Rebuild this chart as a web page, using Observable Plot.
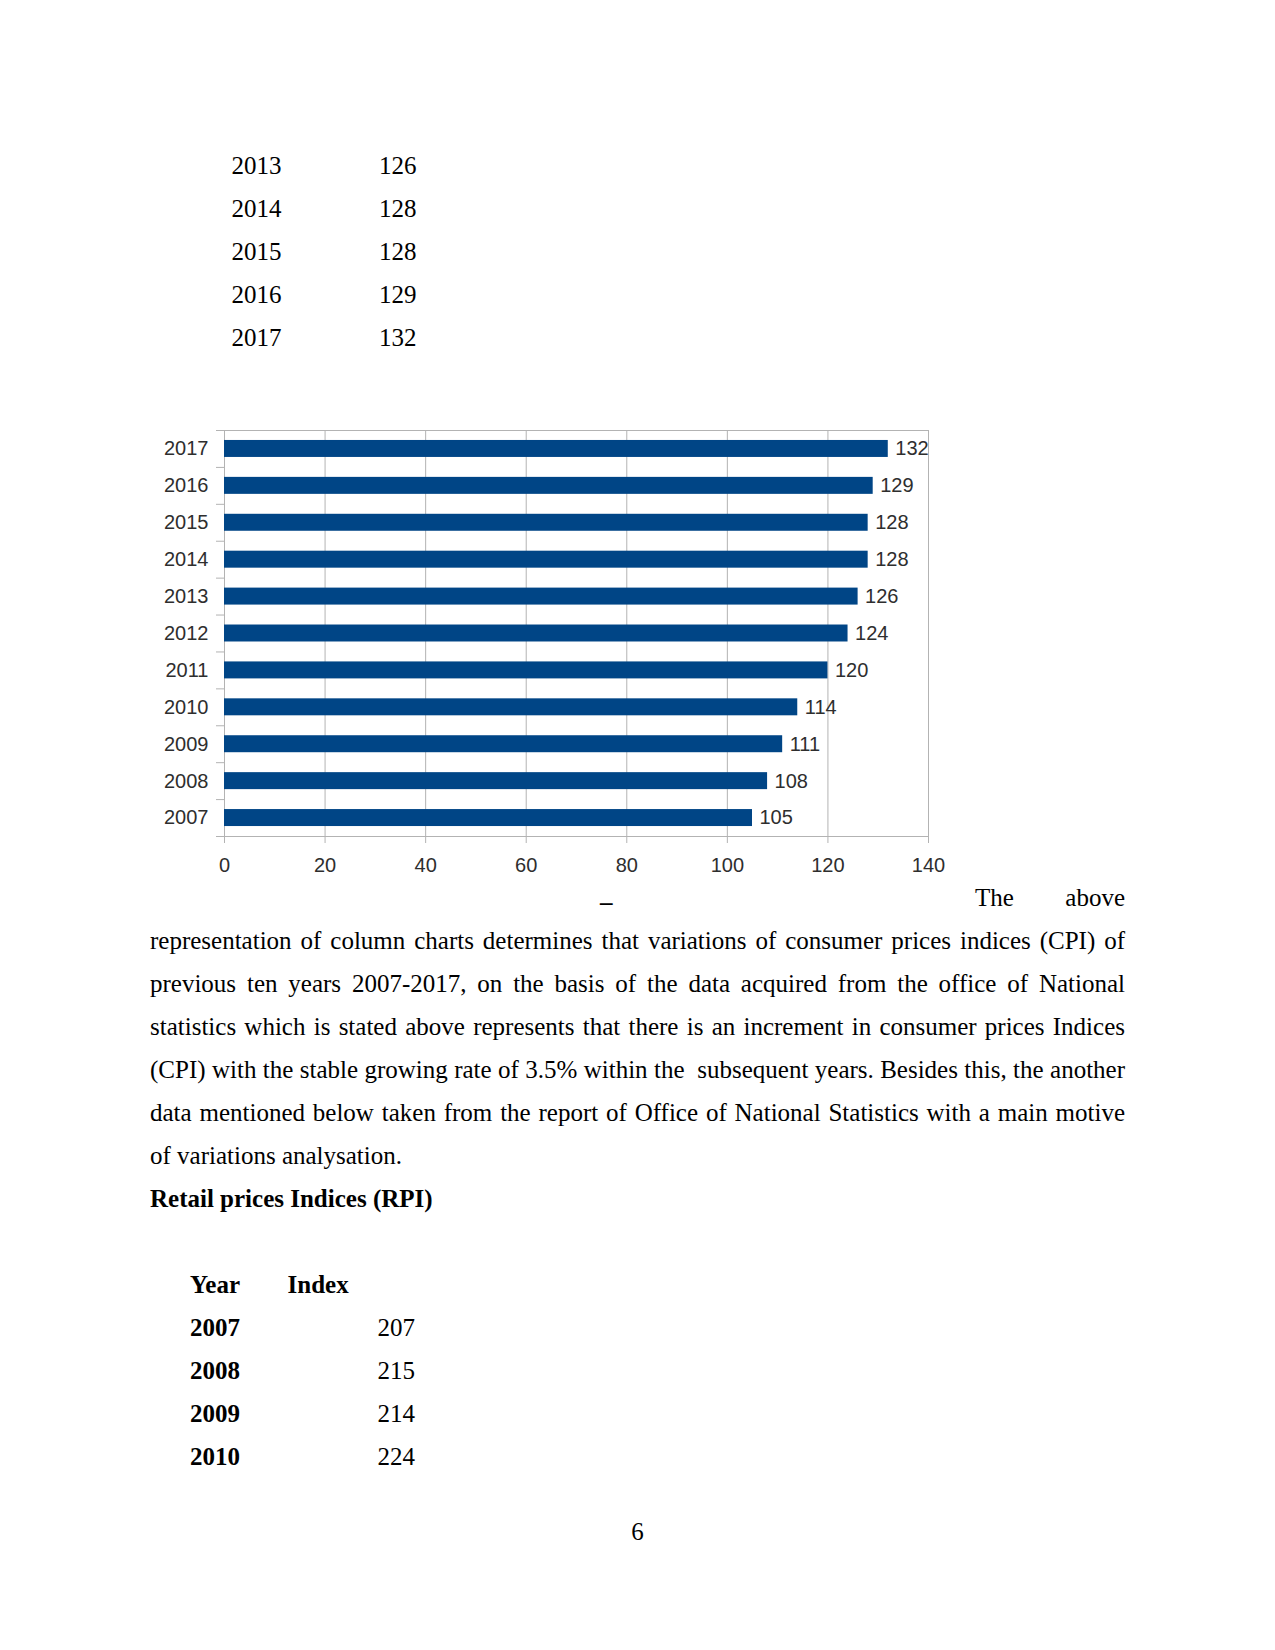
<!DOCTYPE html>
<html>
<head>
<meta charset="utf-8">
<script src="https://cdn.jsdelivr.net/npm/d3@7"></script>
<script src="https://cdn.jsdelivr.net/npm/@observablehq/plot@0.6"></script>
<style>
html, body { margin: 0; padding: 0; background: #fff; }
#page { position: relative; width: 1275px; height: 1650px; overflow: hidden; background: #fff;
  font-family: "Liberation Serif", "Times New Roman", serif; color: #000; }
.t { position: absolute; font-size: 25px; line-height: 43px; white-space: nowrap; }
.j { text-align: justify; text-align-last: justify; }
.b { font-weight: bold; }
#chart { position: absolute; left: 140px; top: 400px; }
</style>
</head>
<body>
<div id="page"><div id="chart"></div></div>
<script>
// ---- Chart data (CPI) ----
const cpiYears = ["2007", "2008", "2009", "2010", "2011", "2012", "2013", "2014", "2015", "2016", "2017"];
const cpiValues = [105, 108, 111, 114, 120, 124, 126, 128, 128, 129, 132];
const xTicks = [0, 20, 40, 60, 80, 100, 120, 140];

// ---- Page text ----
const table1Years = ["2013", "2014", "2015", "2016", "2017"];
const table1Values = ["126", "128", "128", "129", "132"];
const paragraphLines = [
  "representation of column charts determines that variations of consumer prices indices (CPI) of",
  "previous ten years 2007-2017, on the basis of the data acquired from the office of National",
  "statistics which is stated above represents that there is an increment in consumer prices Indices",
  "(CPI) with the stable growing rate of 3.5% within the\u00a0 subsequent years. Besides this, the another",
  "data mentioned below taken from the report of Office of National Statistics with a main motive"
];
const lastLine = "of variations analysation.";
const heading = "Retail prices Indices (RPI)";
const rpiHeader = ["Year", "Index"];
const rpiYears = ["2007", "2008", "2009", "2010"];
const rpiValues = ["207", "215", "214", "224"];
const pageNumber = "6";

// ---- Text placement ----
const page = document.getElementById("page");
const LS = 43.1;
function addText(str, left, baseline, cls, width) {
  const d = document.createElement("div");
  d.className = "t" + (cls ? " " + cls : "");
  d.textContent = str;
  d.style.left = left + "px";
  d.style.top = (baseline - 29.94) + "px";
  if (width) d.style.width = width + "px";
  page.appendChild(d);
  return d;
}

table1Years.forEach((y, i) => {
  addText(y, 231.5, 173.5 + LS * i);
  addText(table1Values[i], 379, 173.5 + LS * i);
});

const pBase = 905.5;
addText("_", 600, 900.5, "b");
addText("The above", 975, pBase, "j", 150);
paragraphLines.forEach((line, i) => addText(line, 150, pBase + LS * (i + 1), "j", 975));
addText(lastLine, 150, pBase + LS * 6);
addText(heading, 150, pBase + LS * 7, "b");

const tBase = 1293;
addText(rpiHeader[0], 190, tBase, "b");
addText(rpiHeader[1], 287.5, tBase, "b");
rpiYears.forEach((y, i) => {
  addText(y, 190, tBase + LS * (i + 1), "b");
  addText(rpiValues[i], 377.5, tBase + LS * (i + 1));
});

const pn = addText(pageNumber, 0, 1540, null, 1275);
pn.style.textAlign = "center";

// ---- Chart ----
const data = cpiYears.map((y, i) => ({year: y, cpi: cpiValues[i]}));
const W = 820, H = 490, mL = 84, mR = 32, mT = 30, mB = 54;
const step = (H - mT - mB) / cpiYears.length;
const yDomain = cpiYears.slice().reverse();
const grey = "#b3b3b3", ink = "#2e2e2e", barColor = "#004586";

const chart = Plot.plot({
  width: W, height: H,
  marginLeft: mL, marginRight: mR, marginTop: mT, marginBottom: mB,
  style: {fontFamily: "'Liberation Sans', Arial, sans-serif", fontSize: "20px", color: ink, background: "transparent", overflow: "visible"},
  x: {domain: [0, 140], label: null},
  y: {type: "band", domain: yDomain, paddingInner: 0.54, paddingOuter: 0.27, round: false, label: null},
  marks: [
    Plot.gridX({ticks: xTicks, stroke: grey, strokeOpacity: 1}),
    Plot.frame({stroke: grey}),
    Plot.barX(data, {x: "cpi", y: "year", fill: barColor}),
    Plot.text(data, {x: "cpi", y: "year", text: d => String(d.cpi), textAnchor: "start", dx: 7, fill: ink}),
    Plot.axisX({ticks: xTicks, tickSize: 7, tickPadding: 14, stroke: grey, fill: ink, label: null}),
    Plot.axisY({tickSize: 0, tickPadding: 16, fill: ink, label: null}),
    Plot.axisY({tickSize: 8, tickFormat: () => "", dy: step / 2, stroke: grey, label: null}),
    Plot.axisY({ticks: [yDomain[0]], tickSize: 8, tickFormat: () => "", dy: -step / 2, stroke: grey, label: null})
  ]
});
document.getElementById("chart").appendChild(chart);
</script>
</body>
</html>
